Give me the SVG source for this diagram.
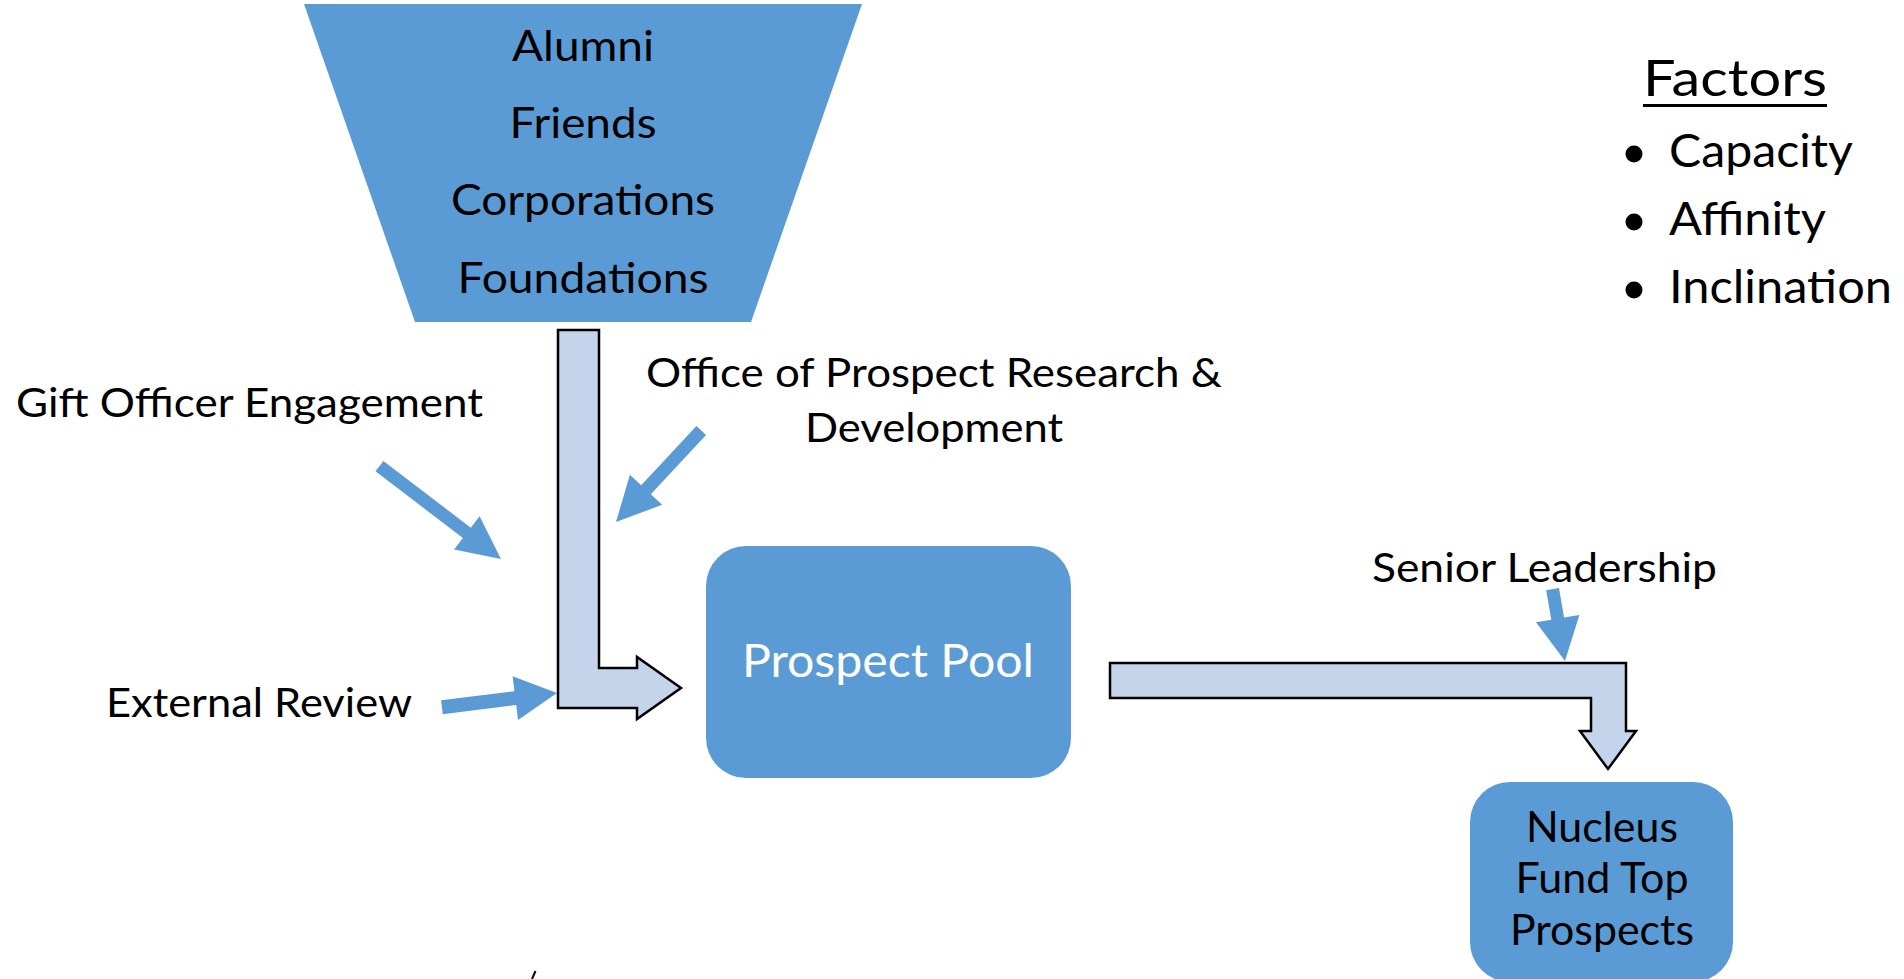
<svg xmlns="http://www.w3.org/2000/svg" width="1904" height="979" viewBox="0 0 1904 979">
<style>
.t{font-family:Lato,"Open Sans","Liberation Sans",sans-serif;fill:#000;}
.c{text-anchor:middle;}
.node{fill:#5B9BD5;}
.bent{fill:#C4D5EB;stroke:#000;stroke-width:2.5;stroke-linejoin:miter;}
.blue{fill:#5B9BD5;}
</style>
<rect width="1904" height="979" fill="#fff"/>
<g id="funnel">
<polygon class="node" points="304,4 862,4 751,322 415,322"/>
<text class="t c" x="583" y="61" font-size="43" textLength="142" lengthAdjust="spacingAndGlyphs">Alumni</text>
<text class="t c" x="583" y="138" font-size="43" textLength="147" lengthAdjust="spacingAndGlyphs">Friends</text>
<text class="t c" x="583" y="215" font-size="43" textLength="264" lengthAdjust="spacingAndGlyphs">Corporations</text>
<text class="t c" x="583" y="293" font-size="43" textLength="251" lengthAdjust="spacingAndGlyphs">Foundations</text>
</g>
<g id="prospect-pool">
<rect class="node" x="706" y="546" width="365" height="232" rx="40"/>
<text class="t c" x="888" y="677" font-size="46" style="fill:#fff" textLength="292" lengthAdjust="spacingAndGlyphs">Prospect Pool</text>
</g>
<g id="nucleus">
<rect class="node" x="1470" y="782" width="263" height="200" rx="40"/>
<text class="t c" x="1602" y="842" font-size="42" textLength="152" lengthAdjust="spacingAndGlyphs">Nucleus</text>
<text class="t c" x="1602" y="893" font-size="42" textLength="173" lengthAdjust="spacingAndGlyphs">Fund Top</text>
<text class="t c" x="1602" y="945" font-size="42" textLength="184" lengthAdjust="spacingAndGlyphs">Prospects</text>
</g>
<g id="label-gift">
<text class="t" x="16" y="417" font-size="40" textLength="467" lengthAdjust="spacingAndGlyphs">Gift Officer Engagement</text>
</g>
<g id="label-external">
<text class="t" x="106" y="717" font-size="40" textLength="306" lengthAdjust="spacingAndGlyphs">External Review</text>
</g>
<g id="label-office">
<text class="t c" x="934" y="387" font-size="40" textLength="576" lengthAdjust="spacingAndGlyphs">Office of Prospect Research &amp;</text>
<text class="t c" x="934" y="442" font-size="40" textLength="258" lengthAdjust="spacingAndGlyphs">Development</text>
</g>
<g id="label-senior">
<text class="t" x="1372" y="582" font-size="40" textLength="345" lengthAdjust="spacingAndGlyphs">Senior Leadership</text>
</g>
<g id="factors">
<text class="t" x="1643" y="96" font-size="50" textLength="184" lengthAdjust="spacingAndGlyphs">Factors</text>
<rect x="1643" y="104" width="184" height="3"/>
<circle cx="1634" cy="154" r="8.5"/>
<text class="t" x="1669" y="167" font-size="46" textLength="184" lengthAdjust="spacingAndGlyphs">Capacity</text>
<circle cx="1634" cy="222" r="8.5"/>
<text class="t" x="1669" y="235" font-size="46" textLength="157" lengthAdjust="spacingAndGlyphs">Affinity</text>
<circle cx="1634" cy="290" r="8.5"/>
<text class="t" x="1669" y="303" font-size="46" textLength="223" lengthAdjust="spacingAndGlyphs">Inclination</text>
</g>
<g id="connectors">
<path class="bent" d="M558,330 L599,330 L599,668 L637,668 L637,657 L681,688 L637,719 L637,708 L558,708 Z"/>
<path class="bent" d="M1110,663 L1626,663 L1626,731 L1636,731 L1608,769 L1580,731 L1591,731 L1591,698 L1110,698 Z"/>
<polygon class="blue" transform="translate(501,559) rotate(37.4)" points="-153,-6.5 -43,-6.5 -43,-21 0,0 -43,21 -43,6.5 -153,6.5"/>
<polygon class="blue" transform="translate(616,522) rotate(133)" points="-125,-6.6 -44,-6.6 -44,-22 0,0 -44,22 -44,6.6 -125,6.6"/>
<polygon class="blue" transform="translate(557,693) rotate(-7.06)" points="-116,-7 -42,-7 -42,-22 0,0 -42,22 -42,7 -116,7"/>
<polygon class="blue" transform="translate(1565,661) rotate(80.2)" points="-73,-6.5 -43,-6.5 -43,-22 0,0 -43,22 -43,6.5 -73,6.5"/>
</g>
<line x1="535.5" y1="971" x2="532" y2="979" stroke="#000" stroke-width="2"/>
</svg>
